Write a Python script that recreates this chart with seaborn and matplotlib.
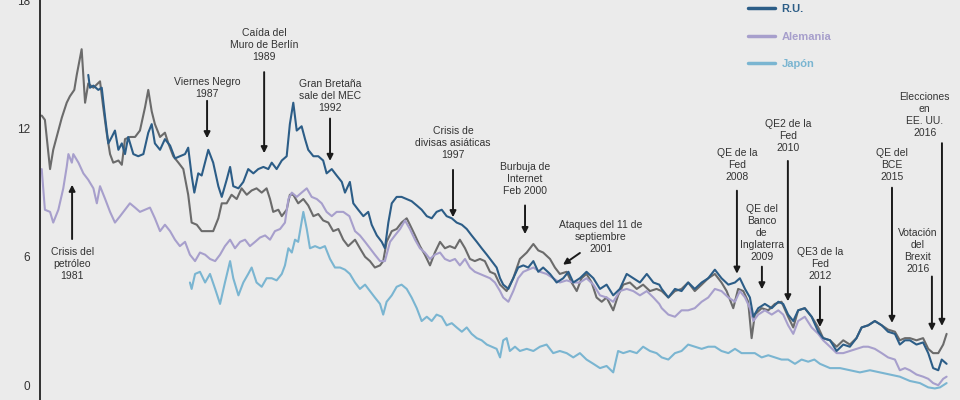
import matplotlib
matplotlib.use("Agg")
import matplotlib.pyplot as plt
from matplotlib.lines import Line2D
import seaborn as sns
import pandas as pd

# 10-year government bond yields (%)
us = [(1980.14, 12.6), (1980.27, 12.4), (1980.48, 10.1), (1980.61, 11.0), (1980.82, 11.9),
      (1980.96, 12.5), (1981.16, 13.2), (1981.29, 13.5), (1981.47, 13.8), (1981.57, 14.5),
      (1981.77, 15.7), (1981.91, 13.2), (1982.04, 14.1), (1982.25, 13.9), (1982.52, 14.2),
      (1982.65, 13.0), (1982.79, 11.8), (1982.93, 10.8), (1983.06, 10.4), (1983.27, 10.5),
      (1983.41, 10.3), (1983.54, 11.5), (1983.74, 11.6), (1983.95, 11.6), (1984.15, 11.9),
      (1984.36, 13.0), (1984.49, 13.8), (1984.63, 12.8), (1984.76, 12.2), (1984.97, 11.6),
      (1985.17, 11.8), (1985.31, 11.3), (1985.51, 10.7), (1985.72, 10.4), (1985.92, 10.1),
      (1986.12, 8.9), (1986.26, 7.6), (1986.47, 7.5), (1986.67, 7.2), (1986.88, 7.2),
      (1987.14, 7.2), (1987.35, 7.8), (1987.49, 8.5), (1987.69, 8.5), (1987.89, 8.9),
      (1988.10, 8.7), (1988.30, 9.2), (1988.51, 8.9), (1988.71, 9.1), (1988.91, 9.2),
      (1989.12, 9.0), (1989.32, 9.2), (1989.46, 8.7), (1989.59, 8.1), (1989.80, 8.2),
      (1989.94, 7.9), (1990.14, 8.2), (1990.27, 8.9), (1990.41, 8.9), (1990.61, 8.5),
      (1990.82, 8.7), (1991.02, 8.4), (1991.23, 7.9), (1991.43, 8.0), (1991.63, 7.7),
      (1991.84, 7.6), (1992.04, 7.2), (1992.25, 7.3), (1992.45, 6.8), (1992.65, 6.5),
      (1992.93, 6.8), (1993.13, 6.4), (1993.34, 6.0), (1993.54, 5.8), (1993.74, 5.5),
      (1993.95, 5.6), (1994.08, 5.8), (1994.22, 6.7), (1994.43, 7.2), (1994.63, 7.3),
      (1994.83, 7.6), (1995.04, 7.8), (1995.17, 7.5), (1995.38, 7.0), (1995.58, 6.5),
      (1995.78, 6.1), (1995.99, 5.6), (1996.19, 6.2), (1996.40, 6.7), (1996.60, 6.4),
      (1996.80, 6.5), (1997.01, 6.4), (1997.21, 6.8), (1997.42, 6.4), (1997.62, 5.9),
      (1997.82, 5.8), (1998.03, 5.9), (1998.23, 5.8), (1998.44, 5.3), (1998.64, 5.2),
      (1998.85, 4.7), (1999.12, 4.4), (1999.39, 5.0), (1999.66, 5.9), (1999.94, 6.2),
      (2000.21, 6.6), (2000.41, 6.3), (2000.61, 6.2), (2000.89, 5.9), (2001.09, 5.5),
      (2001.29, 5.2), (2001.57, 5.3), (2001.77, 4.8), (2001.98, 4.4), (2002.18, 5.0),
      (2002.38, 5.2), (2002.59, 4.8), (2002.79, 4.1), (2003.00, 3.9), (2003.20, 4.1),
      (2003.47, 3.5), (2003.67, 4.2), (2003.88, 4.7), (2004.15, 4.8), (2004.43, 4.5),
      (2004.69, 4.7), (2004.97, 4.4), (2005.24, 4.5), (2005.45, 4.4), (2005.72, 4.1),
      (2005.99, 4.4), (2006.26, 4.5), (2006.53, 4.8), (2006.80, 4.4), (2007.08, 4.7),
      (2007.35, 5.0), (2007.62, 5.2), (2007.89, 4.8), (2008.10, 4.4), (2008.37, 3.6),
      (2008.57, 4.5), (2008.78, 4.4), (2008.98, 3.9), (2009.12, 2.2), (2009.25, 3.3),
      (2009.53, 3.6), (2009.80, 3.5), (2010.07, 3.8), (2010.34, 3.9), (2010.61, 3.2),
      (2010.82, 2.7), (2011.02, 3.5), (2011.29, 3.6), (2011.57, 3.2), (2011.84, 2.7),
      (2012.04, 2.2), (2012.32, 2.1), (2012.59, 1.8), (2012.86, 2.1), (2013.13, 1.9),
      (2013.40, 2.2), (2013.61, 2.7), (2013.88, 2.8), (2014.15, 3.0), (2014.43, 2.8),
      (2014.69, 2.6), (2014.97, 2.5), (2015.17, 2.1), (2015.38, 2.2), (2015.58, 2.2),
      (2015.85, 2.1), (2016.12, 2.2), (2016.33, 1.7), (2016.53, 1.5), (2016.74, 1.5),
      (2016.94, 1.9), (2017.08, 2.4)]

uk = [(1982.04, 14.5), (1982.11, 13.9), (1982.25, 14.0), (1982.45, 13.8), (1982.59, 13.9),
      (1982.73, 12.5), (1982.86, 11.3), (1983.00, 11.6), (1983.13, 11.9), (1983.27, 11.0),
      (1983.41, 11.3), (1983.54, 10.8), (1983.67, 11.6), (1983.88, 10.8), (1984.08, 10.7),
      (1984.29, 10.8), (1984.49, 11.8), (1984.63, 12.2), (1984.76, 11.3), (1984.97, 11.0),
      (1985.17, 11.5), (1985.38, 11.2), (1985.58, 10.6), (1985.78, 10.7), (1985.99, 10.8),
      (1986.12, 11.1), (1986.26, 9.8), (1986.37, 9.0), (1986.53, 9.9), (1986.67, 9.8),
      (1986.94, 11.0), (1987.14, 10.4), (1987.35, 9.3), (1987.49, 8.8), (1987.69, 9.6),
      (1987.83, 10.2), (1987.96, 9.3), (1988.17, 9.2), (1988.37, 9.5), (1988.57, 10.1),
      (1988.78, 9.9), (1988.98, 10.1), (1989.19, 10.2), (1989.39, 10.1), (1989.53, 10.4),
      (1989.73, 10.1), (1989.94, 10.5), (1990.14, 10.7), (1990.27, 12.2), (1990.41, 13.2),
      (1990.55, 11.9), (1990.75, 12.1), (1990.89, 11.5), (1991.02, 11.0), (1991.23, 10.7),
      (1991.43, 10.7), (1991.63, 10.5), (1991.77, 9.9), (1991.98, 10.1), (1992.18, 9.8),
      (1992.39, 9.5), (1992.52, 9.0), (1992.72, 9.5), (1992.86, 8.5), (1993.06, 8.2),
      (1993.27, 7.9), (1993.47, 8.1), (1993.61, 7.5), (1993.82, 7.0), (1994.02, 6.7),
      (1994.15, 6.4), (1994.29, 7.6), (1994.43, 8.5), (1994.63, 8.8), (1994.83, 8.8),
      (1995.04, 8.7), (1995.24, 8.6), (1995.45, 8.4), (1995.65, 8.2), (1995.86, 7.9),
      (1996.06, 7.8), (1996.26, 8.1), (1996.47, 8.2), (1996.67, 7.9), (1996.88, 7.8),
      (1997.08, 7.6), (1997.29, 7.5), (1997.49, 7.3), (1997.69, 7.0), (1997.90, 6.7),
      (1998.10, 6.4), (1998.31, 6.1), (1998.51, 5.8), (1998.71, 5.5), (1998.85, 5.0),
      (1998.98, 4.7), (1999.19, 4.5), (1999.39, 5.0), (1999.59, 5.5), (1999.80, 5.6),
      (2000.00, 5.5), (2000.21, 5.8), (2000.41, 5.3), (2000.61, 5.5), (2000.89, 5.2),
      (2001.16, 4.8), (2001.43, 5.0), (2001.64, 5.3), (2001.84, 4.8), (2002.11, 5.0),
      (2002.38, 5.3), (2002.66, 5.0), (2002.93, 4.5), (2003.20, 4.7), (2003.47, 4.2),
      (2003.74, 4.5), (2004.02, 5.2), (2004.29, 5.0), (2004.56, 4.8), (2004.84, 5.2),
      (2005.11, 4.8), (2005.35, 4.7), (2005.45, 4.5), (2005.72, 4.1), (2005.99, 4.5),
      (2006.26, 4.4), (2006.53, 4.8), (2006.80, 4.5), (2007.08, 4.8), (2007.35, 5.0),
      (2007.62, 5.4), (2007.89, 5.0), (2008.17, 4.7), (2008.44, 4.8), (2008.64, 5.0),
      (2008.85, 4.5), (2009.05, 4.1), (2009.19, 3.2), (2009.39, 3.6), (2009.66, 3.8),
      (2009.94, 3.6), (2010.21, 3.9), (2010.41, 3.8), (2010.61, 3.3), (2010.82, 3.0),
      (2011.02, 3.5), (2011.29, 3.6), (2011.57, 3.2), (2011.84, 2.5), (2012.04, 2.2),
      (2012.32, 2.1), (2012.59, 1.6), (2012.86, 1.9), (2013.13, 1.8), (2013.40, 2.2),
      (2013.61, 2.7), (2013.88, 2.8), (2014.15, 3.0), (2014.43, 2.8), (2014.69, 2.5),
      (2014.97, 2.4), (2015.17, 1.9), (2015.38, 2.1), (2015.58, 2.1), (2015.85, 1.9),
      (2016.12, 2.0), (2016.33, 1.5), (2016.53, 0.8), (2016.74, 0.7), (2016.88, 1.2),
      (2017.08, 1.0)]

germany = [(1980.14, 10.1), (1980.27, 8.2), (1980.48, 8.1), (1980.61, 7.6), (1980.82, 8.2),
           (1981.02, 9.2), (1981.16, 10.2), (1981.23, 10.8), (1981.37, 10.4), (1981.43, 10.8),
           (1981.64, 10.4), (1981.84, 9.9), (1982.04, 9.6), (1982.25, 9.2), (1982.39, 8.5),
           (1982.52, 9.3), (1982.73, 8.7), (1982.93, 8.1), (1983.13, 7.6), (1983.34, 7.9),
           (1983.54, 8.2), (1983.74, 8.5), (1983.95, 8.3), (1984.15, 8.1), (1984.36, 8.2),
           (1984.56, 8.3), (1984.76, 7.8), (1984.97, 7.2), (1985.17, 7.5), (1985.38, 7.2),
           (1985.58, 6.8), (1985.78, 6.5), (1985.99, 6.7), (1986.19, 6.1), (1986.40, 5.8),
           (1986.60, 6.2), (1986.81, 6.1), (1987.01, 5.9), (1987.22, 5.8), (1987.42, 6.1),
           (1987.62, 6.5), (1987.83, 6.8), (1988.03, 6.4), (1988.24, 6.7), (1988.44, 6.8),
           (1988.64, 6.5), (1988.85, 6.7), (1989.05, 6.9), (1989.26, 7.0), (1989.46, 6.8),
           (1989.66, 7.2), (1989.87, 7.3), (1990.07, 7.6), (1990.21, 8.7), (1990.35, 9.0),
           (1990.55, 8.8), (1990.75, 9.0), (1990.96, 9.2), (1991.16, 8.8), (1991.37, 8.7),
           (1991.57, 8.5), (1991.77, 8.1), (1991.98, 7.9), (1992.18, 8.1), (1992.45, 8.1),
           (1992.70, 7.9), (1992.93, 7.2), (1993.13, 7.0), (1993.34, 6.7), (1993.54, 6.4),
           (1993.74, 6.1), (1993.95, 5.8), (1994.15, 5.8), (1994.36, 6.7), (1994.56, 7.0),
           (1994.77, 7.3), (1994.97, 7.7), (1995.17, 7.3), (1995.38, 6.8), (1995.58, 6.4),
           (1995.78, 6.2), (1995.99, 5.9), (1996.19, 6.1), (1996.40, 6.2), (1996.60, 5.9),
           (1996.80, 5.8), (1997.01, 5.9), (1997.21, 5.6), (1997.42, 5.9), (1997.62, 5.5),
           (1997.82, 5.3), (1998.03, 5.2), (1998.23, 5.1), (1998.44, 5.0), (1998.64, 4.8),
           (1998.85, 4.4), (1998.98, 4.1), (1999.19, 3.9), (1999.39, 4.4), (1999.59, 5.0),
           (1999.80, 5.3), (2000.00, 5.4), (2000.21, 5.5), (2000.48, 5.3), (2000.75, 5.2),
           (2001.02, 5.0), (2001.29, 4.8), (2001.57, 4.9), (2001.84, 4.8), (2002.11, 4.8),
           (2002.38, 5.0), (2002.66, 4.7), (2002.93, 4.2), (2003.20, 4.1), (2003.47, 3.9),
           (2003.74, 4.4), (2004.02, 4.5), (2004.29, 4.4), (2004.56, 4.2), (2004.84, 4.4),
           (2005.11, 4.1), (2005.35, 3.8), (2005.45, 3.6), (2005.72, 3.3), (2005.99, 3.2),
           (2006.26, 3.5), (2006.53, 3.5), (2006.80, 3.6), (2007.08, 3.9), (2007.35, 4.1),
           (2007.62, 4.5), (2007.89, 4.4), (2008.17, 4.1), (2008.44, 3.9), (2008.64, 4.4),
           (2008.85, 4.1), (2009.05, 3.6), (2009.19, 3.0), (2009.39, 3.3), (2009.66, 3.5),
           (2009.94, 3.3), (2010.21, 3.5), (2010.41, 3.3), (2010.61, 2.8), (2010.82, 2.4),
           (2011.02, 3.0), (2011.29, 3.2), (2011.57, 2.7), (2011.84, 2.4), (2012.04, 2.1),
           (2012.32, 1.8), (2012.59, 1.5), (2012.86, 1.5), (2013.13, 1.6), (2013.40, 1.7),
           (2013.68, 1.8), (2013.88, 1.8), (2014.15, 1.7), (2014.43, 1.5), (2014.69, 1.3),
           (2014.97, 1.2), (2015.17, 0.7), (2015.38, 0.8), (2015.58, 0.7), (2015.85, 0.5),
           (2016.12, 0.4), (2016.33, 0.3), (2016.53, 0.1), (2016.74, 0.0), (2016.94, 0.3),
           (2017.08, 0.4)]

japan = [(1986.19, 4.8), (1986.26, 4.5), (1986.40, 5.2), (1986.60, 5.3), (1986.81, 4.8),
         (1987.01, 5.2), (1987.22, 4.5), (1987.42, 3.8), (1987.62, 4.8), (1987.83, 5.8),
         (1987.96, 5.0), (1988.17, 4.2), (1988.37, 4.8), (1988.57, 5.2), (1988.71, 5.5),
         (1988.91, 4.8), (1989.12, 4.6), (1989.32, 5.0), (1989.53, 5.0), (1989.73, 4.9),
         (1989.94, 5.2), (1990.07, 5.6), (1990.21, 6.4), (1990.35, 6.2), (1990.48, 6.8),
         (1990.61, 6.7), (1990.82, 8.1), (1990.96, 7.3), (1991.09, 6.4), (1991.30, 6.5),
         (1991.50, 6.4), (1991.70, 6.5), (1991.91, 5.9), (1992.11, 5.5), (1992.32, 5.5),
         (1992.52, 5.4), (1992.72, 5.2), (1992.93, 4.8), (1993.13, 4.5), (1993.34, 4.7),
         (1993.54, 4.4), (1993.74, 4.1), (1993.95, 3.8), (1994.08, 3.3), (1994.22, 3.9),
         (1994.43, 4.2), (1994.63, 4.6), (1994.83, 4.7), (1995.04, 4.5), (1995.24, 4.1),
         (1995.45, 3.6), (1995.65, 3.0), (1995.86, 3.2), (1996.06, 3.0), (1996.26, 3.3),
         (1996.47, 3.2), (1996.67, 2.8), (1996.88, 2.9), (1997.08, 2.7), (1997.29, 2.5),
         (1997.49, 2.7), (1997.69, 2.4), (1997.90, 2.2), (1998.10, 2.1), (1998.31, 1.9),
         (1998.51, 1.8), (1998.71, 1.7), (1998.85, 1.3), (1998.98, 2.1), (1999.12, 2.2),
         (1999.25, 1.6), (1999.46, 1.8), (1999.66, 1.6), (1999.94, 1.7), (2000.21, 1.6),
         (2000.48, 1.8), (2000.75, 1.9), (2001.02, 1.5), (2001.29, 1.6), (2001.57, 1.5),
         (2001.84, 1.3), (2002.11, 1.5), (2002.38, 1.2), (2002.66, 1.0), (2002.93, 0.8),
         (2003.20, 0.9), (2003.47, 0.6), (2003.67, 1.6), (2003.88, 1.5), (2004.15, 1.6),
         (2004.43, 1.5), (2004.69, 1.8), (2004.97, 1.6), (2005.24, 1.5), (2005.45, 1.3),
         (2005.72, 1.2), (2005.99, 1.5), (2006.26, 1.6), (2006.53, 1.9), (2006.80, 1.8),
         (2007.08, 1.7), (2007.35, 1.8), (2007.62, 1.8), (2007.89, 1.6), (2008.17, 1.5),
         (2008.44, 1.7), (2008.71, 1.5), (2008.98, 1.5), (2009.25, 1.5), (2009.53, 1.3),
         (2009.80, 1.4), (2010.07, 1.3), (2010.34, 1.2), (2010.61, 1.2), (2010.89, 1.0),
         (2011.16, 1.2), (2011.43, 1.1), (2011.68, 1.2), (2011.91, 1.0), (2012.32, 0.8),
         (2012.73, 0.8), (2013.13, 0.7), (2013.54, 0.6), (2013.95, 0.7), (2014.36, 0.6),
         (2014.77, 0.5), (2015.17, 0.4), (2015.58, 0.2), (2015.99, 0.1), (2016.33, -0.1),
         (2016.60, -0.15), (2016.81, -0.1), (2017.08, 0.1)]

countries = ["EE. UU.", "R.U.", "Alemania", "Japón"]
colors = ["#6b6b6b", "#2c5d87", "#a79fcc", "#7ab5d1"]
y_ticks = [0, 6, 12, 18]

# (text, x text, y text, x tail, y tail, x head, y head)
events = [
    ("Crisis del\npetróleo\n1981", 1981.38, 5.68, 1981.38, 6.83, 1981.38, 9.37),
    ("Viernes Negro\n1987", 1986.89, 13.91, 1986.89, 13.29, 1986.89, 11.54),
    ("Caída del\nMuro de Berlín\n1989", 1989.22, 15.92, 1989.22, 14.63, 1989.22, 10.84),
    ("Gran Bretaña\nsale del MEC\n1992", 1991.91, 13.52, 1991.91, 12.46, 1991.91, 10.48),
    ("Crisis de\ndivisas asiáticas\n1997", 1996.93, 11.31, 1996.93, 10.06, 1996.93, 7.85),
    ("Burbuja de\nInternet\nFeb 2000", 1999.87, 9.64, 1999.87, 8.40, 1999.87, 7.06),
    ("Ataques del 11 de\nseptiembre\n2001", 2002.97, 6.92, 2002.11, 6.18, 2001.42, 5.63),
    ("QE de la\nFed\n2008", 2008.52, 10.29, 2008.52, 9.09, 2008.52, 5.21),
    ("QE del\nBanco\nde\nInglaterra\n2009", 2009.54, 7.11, 2009.54, 5.54, 2009.54, 4.48),
    ("QE2 de la\nFed\n2010", 2010.60, 11.63, 2010.60, 10.48, 2010.60, 3.92),
    ("QE3 de la\nFed\n2012", 2011.91, 5.68, 2011.91, 4.61, 2011.91, 2.72),
    ("QE del\nBCE\n2015", 2014.85, 10.29, 2014.85, 9.23, 2014.85, 2.91),
    ("Votación\ndel\nBrexit\n2016", 2015.91, 6.28, 2016.48, 5.08, 2016.48, 2.54),
    ("Elecciones\nen\nEE. UU.\n2016", 2016.19, 12.64, 2016.89, 11.31, 2016.89, 2.77),
]

BG = "#ebebeb"

sns.set_style("white")
plt.rcParams["font.family"] = ["Liberation Sans", "DejaVu Sans"]

frames = []
for name, series in zip(countries, [us, uk, germany, japan]):
    part = pd.DataFrame(series, columns=["year", "value"])
    part["country"] = name
    frames.append(part)
df = pd.concat(frames, ignore_index=True)

fig = plt.figure(figsize=(9.6, 4), dpi=100, facecolor=BG)
ax = fig.add_axes([40 / 960, 0, 912 / 960, 1])
ax.set_facecolor(BG)

palette = dict(zip(countries, colors))
# draw order: US, Germany, Japan, then UK on top
for name in ["EE. UU.", "Alemania", "Japón", "R.U."]:
    sns.lineplot(data=df[df["country"] == name], x="year", y="value",
                 color=palette[name], lw=1.5, estimator=None, sort=True,
                 legend=False, ax=ax)

ax.set_xlim(1980.07, 2017.30)
ax.set_ylim(-0.69, 17.77)
ax.set_yticks(y_ticks)
ax.set_yticklabels([str(t) for t in y_ticks])
ax.set_xticks([])
ax.set_xlabel("")
ax.set_ylabel("")
ax.tick_params(axis="y", length=4, width=0.8, color="#333333",
               labelsize=8.5, labelcolor="#333333", pad=3)
for side in ["top", "right", "bottom"]:
    ax.spines[side].set_visible(False)
ax.spines["left"].set_color("#111111")
ax.spines["left"].set_linewidth(1.2)

for text, xt, yt, x0, y0, x1, y1 in events:
    ax.text(xt, yt, text, ha="center", va="center", fontsize=7.5,
            color="#333333", linespacing=1.25)
    ax.annotate("", xy=(x1, y1), xytext=(x0, y0),
                arrowprops=dict(arrowstyle="-|>", color="#1a1a1a", lw=1.4,
                                mutation_scale=9, shrinkA=0, shrinkB=0))

# first entry (EE. UU.) sits above the top edge, as in the reference
handles = [Line2D([0], [0], color=c, lw=2.5) for c in colors]
ax.legend(handles, countries, loc="upper left",
          bbox_to_anchor=(0.776, 1.058), frameon=False,
          labelcolor=colors, prop={"weight": "bold", "size": 8},
          handlelength=2.5, handletextpad=0.55, labelspacing=1.57,
          borderpad=0, borderaxespad=0)

fig.savefig("out.png", dpi=100, facecolor=BG)
